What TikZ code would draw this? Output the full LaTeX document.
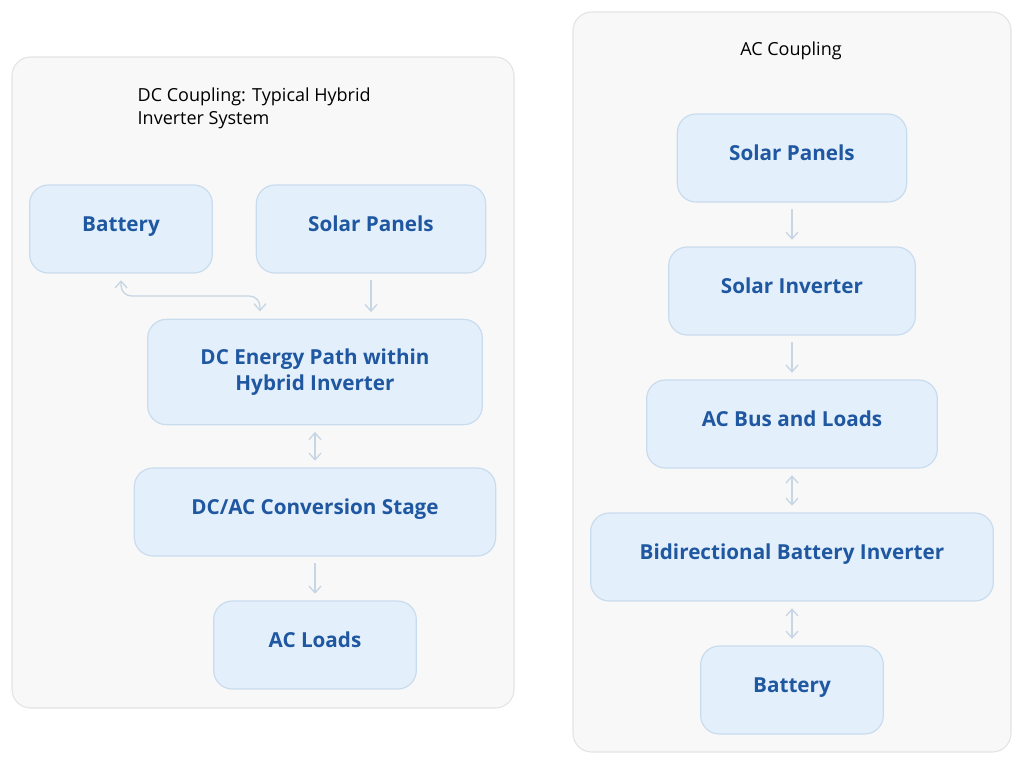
\documentclass[tikz,border=0pt]{standalone}
\usepackage{fontspec}
\setmainfont{Open Sans}
\usetikzlibrary{arrows.meta, positioning}
\definecolor{boxfill}{HTML}{E3F0FC}
\definecolor{boxline}{HTML}{C9DCEE}
\definecolor{boxtext}{HTML}{1F57A0}
\definecolor{panelfill}{HTML}{F8F8F8}
\definecolor{panelline}{HTML}{E3E3E3}
\definecolor{link}{HTML}{C6D6E4}
\tikzset{
    panel/.style = {draw=panelline, fill=panelfill, rounded corners=14pt, line width=0.8pt},
    stage/.style = {draw=boxline, fill=boxfill, rounded corners=14pt, line width=0.9pt,
        align=center, text=boxtext, font=\fontsize{15.5}{19}\selectfont\bfseries, inner sep=0pt,
        text height=9pt, text depth=6pt},
    title/.style = {font=\fontsize{13.5}{17}\selectfont, text=black, align=left},
    flow/.style = {draw=link, line width=1pt, -{Straight Barb[length=5pt,width=9pt]}, shorten >=5pt, shorten <=5pt},
    both/.style = {flow, {Straight Barb[length=5pt,width=9pt]}-{Straight Barb[length=5pt,width=9pt]}},
}
\begin{document}
\begin{tikzpicture}[x=0.75pt, y=-0.75pt]
\useasboundingbox (0,0) rectangle (1024,765);
% panels
\draw[panel] (12,57) rectangle (514,708);
\draw[panel] (573,12) rectangle (1011,752);
\node[title, anchor=north west] (dctitle) at (133,83) {DC Coupling: Typical Hybrid\\Inverter System};
\node[title] (actitle) at (791,51) {AC Coupling};

% DC coupling
\node[stage, minimum width=137pt, minimum height=66pt] (batt) at (121,229) {Battery};
\node[stage, minimum width=172pt, minimum height=66pt] (solar) at (371,229) {Solar Panels};
\node[stage, minimum width=251pt, minimum height=79pt, text height=, text depth=] (path) at (315,372) {DC Energy Path within\\Hybrid Inverter};
\node[stage, minimum width=271pt, minimum height=66pt] (conv) at (315,512) {DC/AC Conversion Stage};
\node[stage, minimum width=152pt, minimum height=66pt] (loads) at (315,645) {AC Loads};
\coordinate (tap) at (260,318);
\draw[both, rounded corners=8pt] (batt.south) -- (121,296) -- (260,296) -- (tap);
\draw[flow] (solar.south) -- (solar.south |- path.north);
\draw[both] (path) -- (conv);
\draw[flow] (conv) -- (loads);

% AC coupling
\node[stage, minimum width=172pt, minimum height=66pt] (acsolar) at (792,158) {Solar Panels};
\node[stage, minimum width=185pt, minimum height=66pt] (acinv) at (792,291) {Solar Inverter};
\node[stage, minimum width=218pt, minimum height=66pt] (acbus) at (792,424) {AC Bus and Loads};
\node[stage, minimum width=302pt, minimum height=66pt] (bidir) at (792,557) {Bidirectional Battery Inverter};
\node[stage, minimum width=137pt, minimum height=66pt] (acbatt) at (792,690) {Battery};
\draw[flow] (acsolar) -- (acinv);
\draw[flow] (acinv) -- (acbus);
\draw[both] (acbus) -- (bidir);
\draw[both] (bidir) -- (acbatt);
\end{tikzpicture}
\end{document}
